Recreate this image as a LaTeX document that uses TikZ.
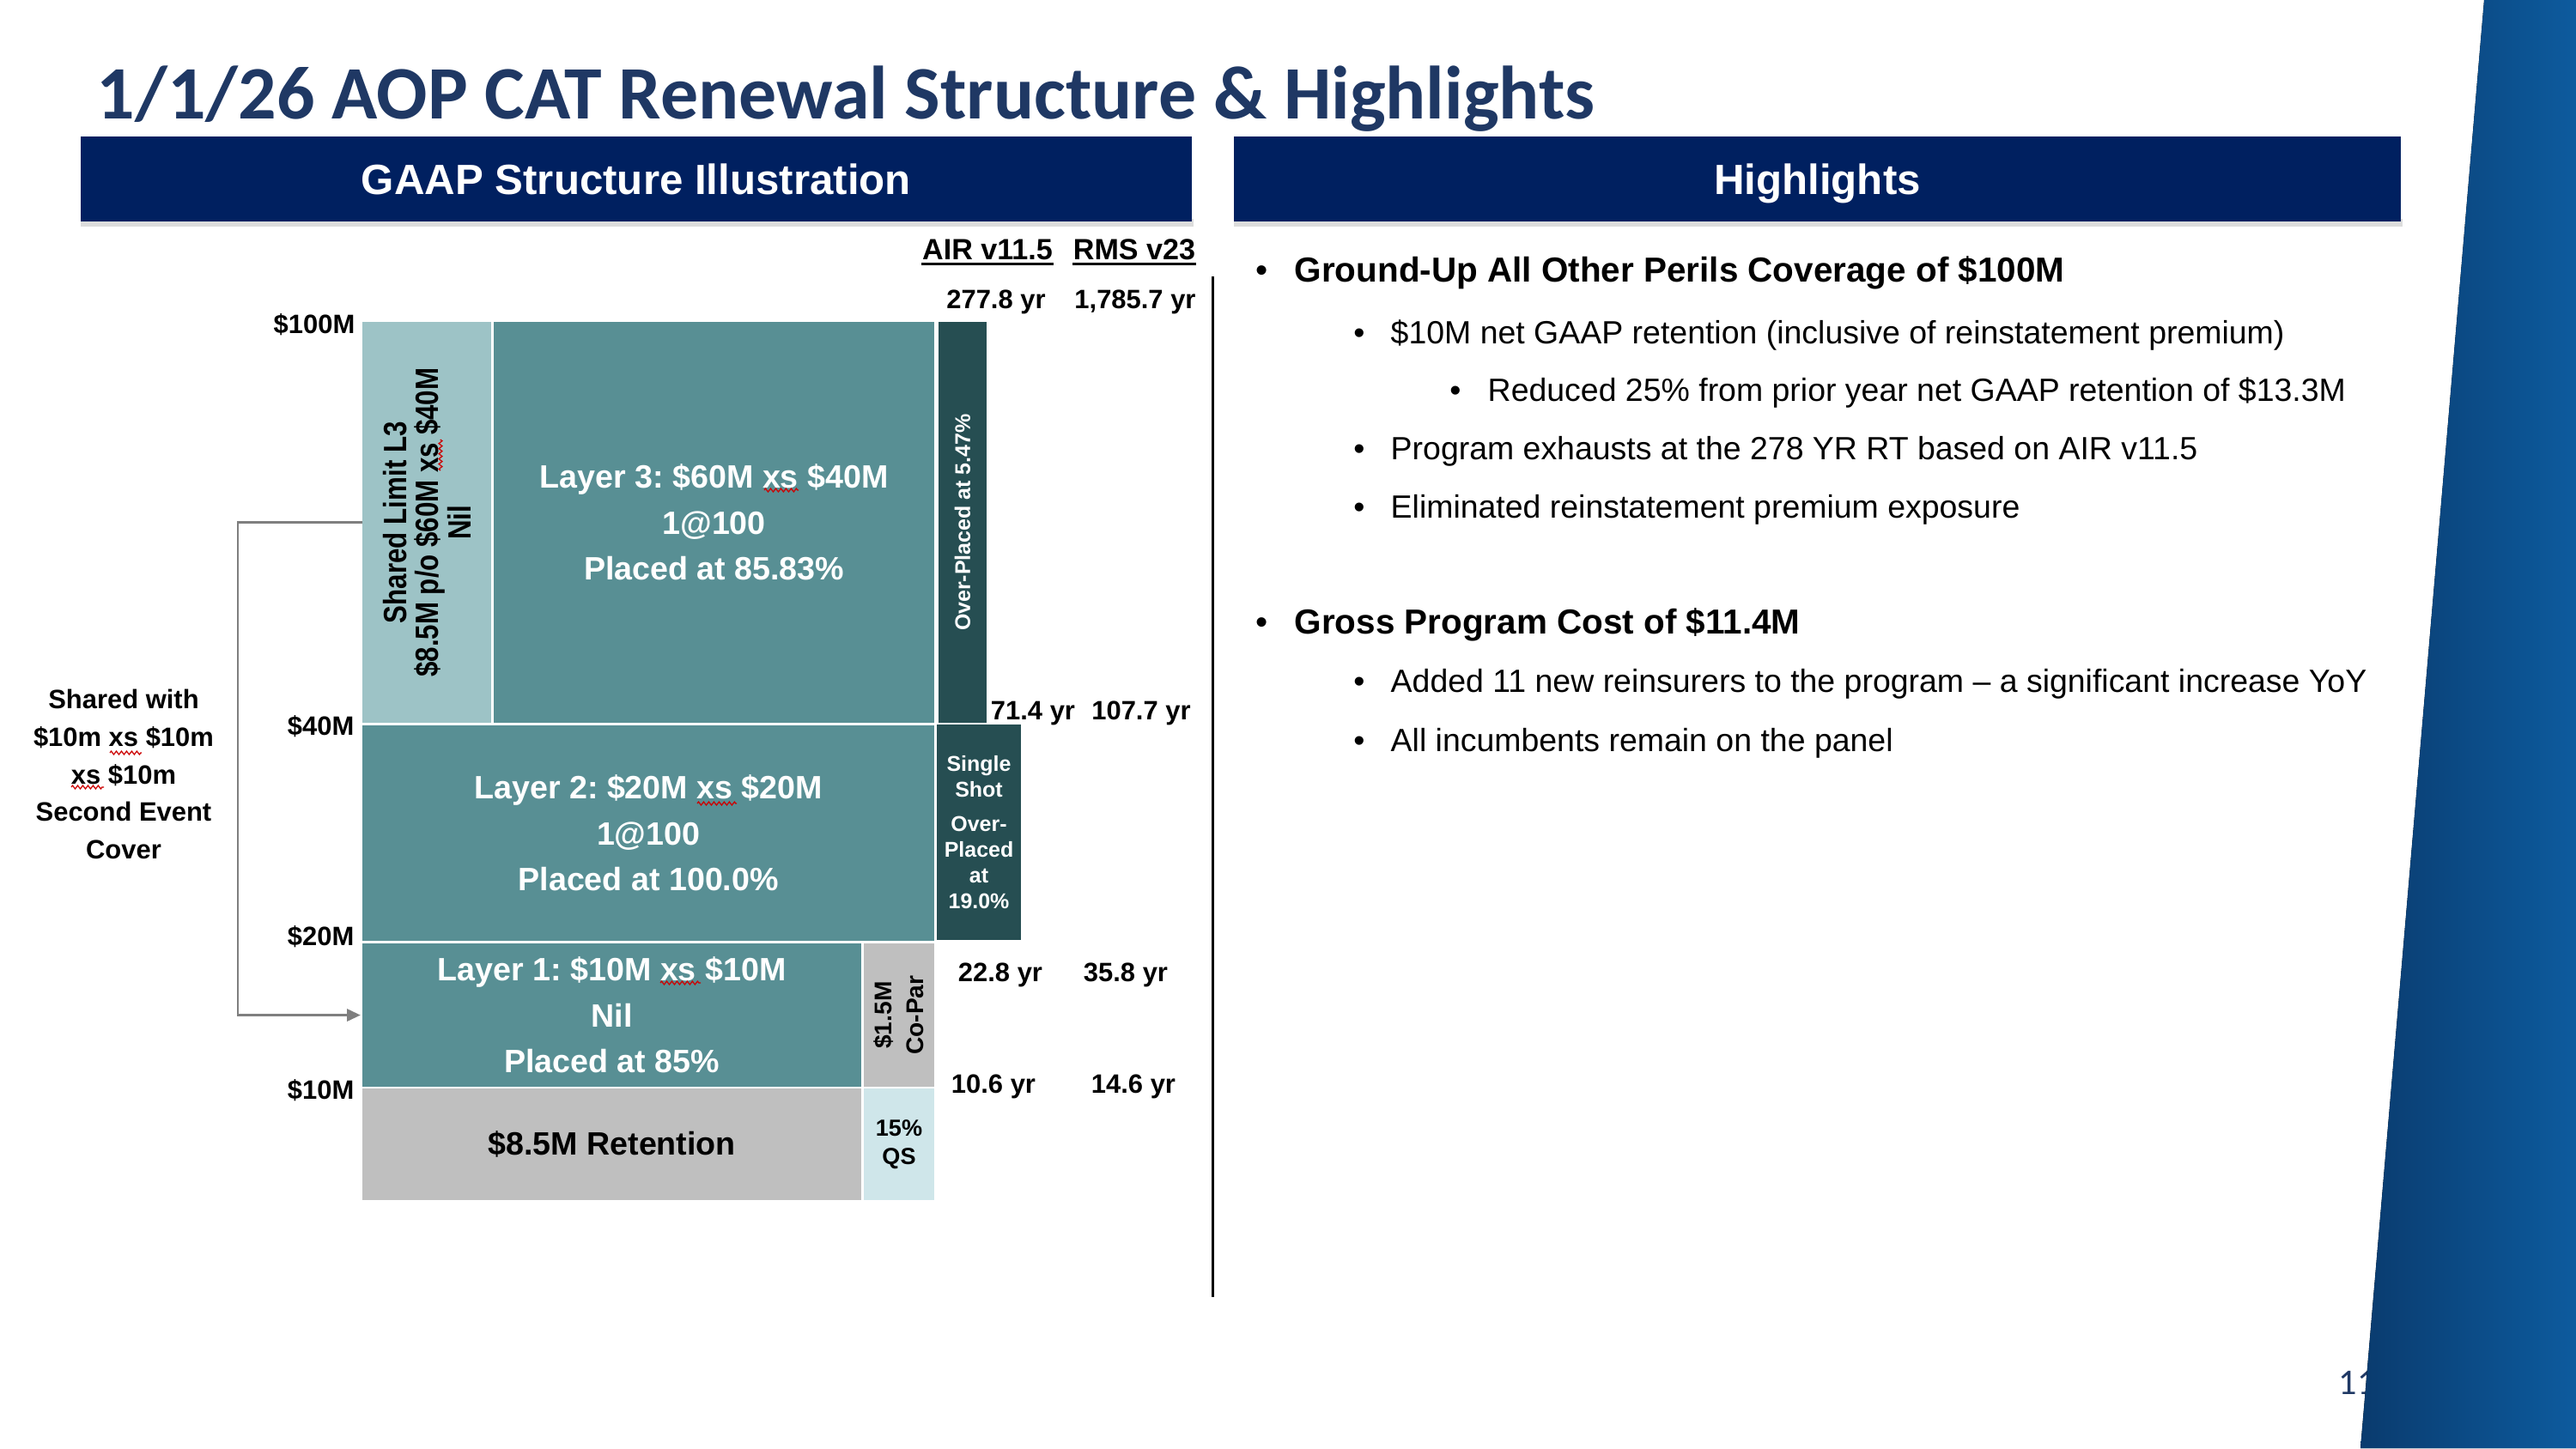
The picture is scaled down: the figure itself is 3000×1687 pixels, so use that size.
\documentclass[tikz,border=0pt]{standalone}
\usepackage{fontspec}
\setmainfont{Liberation Sans}
\newfontfamily\titlefont{Carlito}
\usetikzlibrary{arrows.meta,decorations.pathmorphing}
\frenchspacing
\definecolor{navy}{HTML}{002060}
\definecolor{titleblue}{HTML}{1F3864}
\definecolor{tealL}{HTML}{9DC3C6}
\definecolor{tealM}{HTML}{588F94}
\definecolor{tealD}{HTML}{264E52}
\definecolor{greyB}{HTML}{BFBFBF}
\definecolor{qsblue}{HTML}{CFE6EA}
\definecolor{connG}{HTML}{7F7F7F}
\definecolor{sideL}{HTML}{0A3B6E}
\definecolor{sideR}{HTML}{0D5B9E}
\definecolor{shadowgrey}{HTML}{DCDCDC}
\newcommand\myfs[2]{\fontsize{#1}{#2}\selectfont}
\begin{document}
\begin{tikzpicture}[x=0.01cm,y=-0.01cm,
  box/.style={draw=none, inner sep=0pt, outer sep=0pt, anchor=north west},
  hdr/.style={box, fill=navy, minimum height=0.99cm, text=white,
    font=\myfs{14pt}{16pt}\bfseries, text height=10.02pt, text depth=0pt},
  layertext/.style={text=white, font=\myfs{10.7pt}{15.2pt}\bfseries, align=center},
  axislbl/.style={font=\myfs{8.8pt}{10pt}\bfseries, inner sep=0pt, text height=6.3pt, text depth=0pt, anchor=east},
  yrlbl/.style={font=\myfs{8.8pt}{10pt}\bfseries, inner sep=0pt, text height=6.3pt, text depth=0pt},
  mdl/.style={font=\myfs{9.7pt}{11pt}\bfseries, inner sep=0pt, text height=6.95pt, text depth=0pt},
  rot/.style={rotate=90, inner sep=0pt, align=center},
  hlA/.style={font=\myfs{11.5pt}{14pt}\bfseries, inner sep=0pt, anchor=base west},
  hlB/.style={font=\myfs{10.65pt}{13pt}, inner sep=0pt, anchor=base west},
  bulA/.style={font=\myfs{11.5pt}{14pt}, inner sep=0pt, anchor=base},
  bulB/.style={font=\myfs{10.65pt}{13pt}, inner sep=0pt, anchor=base},
  conn/.style={draw=connG, line width=0.85pt, shorten >=0.6pt, -{Triangle[length=4.5pt,width=4pt]}},
  squig/.style={draw=red!80!black, line width=0.35pt, decorate, decoration={zigzag, segment length=1.7pt, amplitude=0.55pt}}
]
\useasboundingbox (0,0) rectangle (3000,1687);
\fill[white] (0,0) rectangle (3000,1687);

% title
\node[anchor=base west, inner sep=0pt, text=titleblue, font=\titlefont\bfseries\myfs{25pt}{30pt}] (title) at (112,138) {1/1/26 AOP CAT Renewal Structure \& Highlights};

% header bars
\fill[shadowgrey] (94,255) rectangle (1390,264);
\fill[shadowgrey] (1437,255) rectangle (2798,264);
\node[hdr, minimum width=12.93cm] (hdrL) at (94,159) {GAAP Structure Illustration};
\node[hdr, minimum width=13.58cm] (hdrR) at (1437,159) {Highlights};

% model headers
\node[mdl] (air) at (1150,290) {AIR v11.5};
\node[mdl] (rms) at (1321,290) {RMS v23};
\draw[line width=0.8pt] ([yshift=-1.5pt]air.base west) -- ([yshift=-1.5pt]air.base east);
\draw[line width=0.8pt] ([yshift=-1.5pt]rms.base west) -- ([yshift=-1.5pt]rms.base east);

% layer boxes
\node[box, fill=tealL, minimum width=1.50cm, minimum height=4.67cm] (shared) at (422,375) {};
\node[box, fill=tealM, minimum width=5.13cm, minimum height=4.67cm, layertext] (l3) at (575,375) {Layer 3: \$60M xs \$40M\\1@100\\Placed at 85.83\%};
\node[box, fill=tealD, minimum width=0.56cm, minimum height=4.67cm] (over) at (1093,375) {};
\node[box, fill=tealM, minimum width=6.66cm, minimum height=2.51cm, layertext] (l2) at (422,845) {Layer 2: \$20M xs \$20M\\1@100\\Placed at 100.0\%};
\node[box, fill=tealD, minimum width=0.98cm, minimum height=2.51cm, text=white, font=\myfs{7.1pt}{8.5pt}\bfseries, align=center] (single) at (1091,844) {Single\\Shot\\[2.8pt]Over-\\Placed\\at\\19.0\%};
\node[box, fill=tealM, minimum width=5.81cm, minimum height=1.67cm, layertext] (l1) at (422,1099) {Layer 1: \$10M xs \$10M\\Nil\\Placed at 85\%};
\node[box, fill=greyB, minimum width=0.82cm, minimum height=1.67cm] (copar) at (1006,1099) {};
\node[box, fill=greyB, minimum width=5.81cm, minimum height=1.30cm, font=\myfs{10.7pt}{13pt}\bfseries] (ret) at (422,1268) {\$8.5M Retention};
\node[box, fill=qsblue, minimum width=0.82cm, minimum height=1.30cm, font=\myfs{7.7pt}{9.4pt}\bfseries, align=center] (qs) at (1006,1268) {15\%\\QS};

% rotated texts
\node[rot, font=\myfs{8.9pt}{10.7pt}\bfseries] (sltext) at (shared.center) {\scalebox{1}[1.2]{Shared Limit L3}\\\scalebox{1}[1.2]{\$8.5M p/o \$60M xs \$40M}\\\scalebox{1}[1.2]{Nil}};
\node[rot, font=\myfs{7.1pt}{8.5pt}\bfseries, text=white] (overtext) at (over.center) {Over-Placed at 5.47\%};
\node[rot, font=\myfs{8pt}{10.5pt}\bfseries] (copartext) at (copar.center) {\$1.5M\\Co-Par};

% axis labels
\node[axislbl] (a100) at (414,377) {\$100M};
\node[axislbl] (a40) at (413,845) {\$40M};
\node[axislbl] (a20) at (413,1090) {\$20M};
\node[axislbl] (a10) at (413,1269) {\$10M};

% return periods
\node[yrlbl] (r1a) at (1160,348) {277.8 yr};
\node[yrlbl] (r1b) at (1322,348) {1,785.7 yr};
\node[yrlbl] (r2a) at (1203,827) {71.4 yr};
\node[yrlbl] (r2b) at (1329,827) {107.7 yr};
\node[yrlbl] (r3a) at (1165,1132) {22.8 yr};
\node[yrlbl] (r3b) at (1311,1132) {35.8 yr};
\node[yrlbl] (r4a) at (1157,1262) {10.6 yr};
\node[yrlbl] (r4b) at (1320,1262) {14.6 yr};

% shared with text and connector
\node[font=\myfs{8.8pt}{12.4pt}\bfseries, align=center, inner sep=0pt] (sharedwith) at (144,902) {Shared with\\\$10m xs \$10m\\xs \$10m\\Second Event\\Cover};
\draw[conn] (shared.west) -- ++(-145,0) |- (l1.west);

% spell-check squiggles
\draw[squig] (890,571) -- (930,571);
\draw[squig] (812,936) -- (858,936);
\draw[squig] (769,1145) -- (816,1145);
\draw[squig] (128,877) -- (165,877);
\draw[squig] (83,917) -- (121,917);
\draw[squig] (513,548) -- (513,512);

% separator
\coordinate (sepT) at (1412,322);
\coordinate (sepB) at (1412,1511);
\draw[line width=0.85pt] (sepT) -- (sepB);

% highlights
\node[bulA] (b1) at (1470,328) {•};
\node[hlA] (t1) at (1507,328) {Ground-Up All Other Perils Coverage of \$100M};
\node[bulB] (b2) at (1583,400) {•};
\node[hlB] (t2) at (1619,400) {\$10M net GAAP retention (inclusive of reinstatement premium)};
\node[bulB] (b3) at (1695,467) {•};
\node[hlB] (t3) at (1732,467) {Reduced 25\% from prior year net GAAP retention of \$13.3M};
\node[bulB] (b4) at (1583,535) {•};
\node[hlB] (t4) at (1619,535) {Program exhausts at the 278 YR RT based on AIR v11.5};
\node[bulB] (b5) at (1583,603) {•};
\node[hlB] (t5) at (1619,603) {Eliminated reinstatement premium exposure};
\node[bulA] (b6) at (1470,738) {•};
\node[hlA] (t6) at (1507,738) {Gross Program Cost of \$11.4M};
\node[bulB] (b7) at (1583,806) {•};
\node[hlB] (t7) at (1619,806) {Added 11 new reinsurers to the program – a significant increase YoY};
\node[bulB] (b8) at (1583,875) {•};
\node[hlB] (t8) at (1619,875) {All incumbents remain on the panel};

% page number and side band
\node[anchor=base, inner sep=0pt, text=titleblue, font=\titlefont\myfs{12pt}{14pt}] (pg) at (2745,1624) {11};
\fill[left color=sideL, right color=sideR] (2893,0) -- (3000,0) -- (3000,1687) -- (2749,1687) -- cycle;
\end{tikzpicture}
\end{document}
